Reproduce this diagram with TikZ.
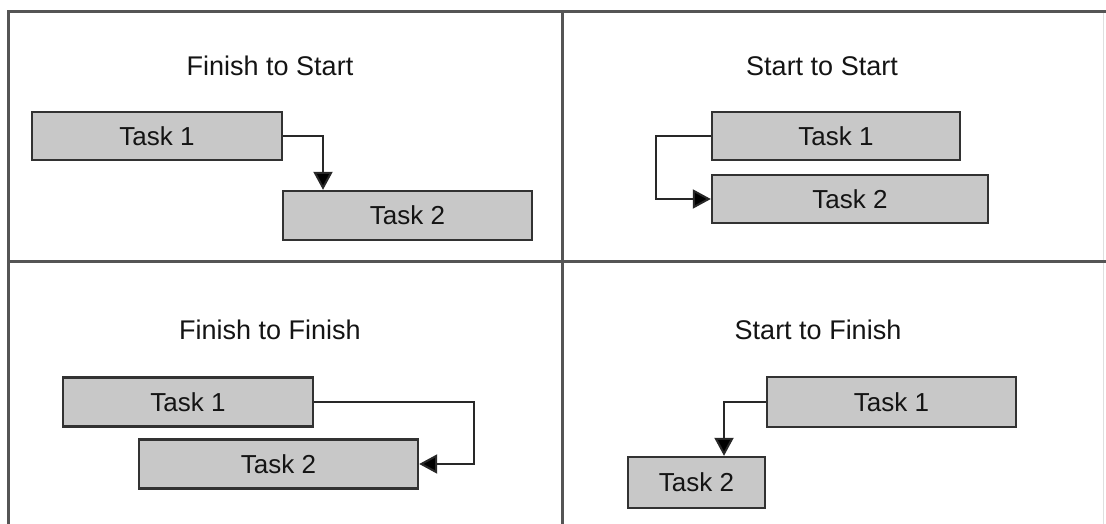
\documentclass[tikz,border=0pt]{standalone}
\usepackage{fontspec}
\setmainfont{Liberation Sans}
\usetikzlibrary{arrows.meta}
\definecolor{framegray}{RGB}{85,85,85}
\definecolor{boxfill}{RGB}{200,200,200}
\definecolor{boxline}{RGB}{50,50,50}
\definecolor{linkgray}{RGB}{40,40,40}
\definecolor{textdark}{RGB}{20,20,20}
\tikzset{
  frameline/.style={draw=framegray, line width=3pt},
  taskbox/.style={draw=boxline, fill=boxfill, line width=2.4pt, rectangle,
    inner sep=0pt, text=textdark, font=\fontsize{26}{29}\selectfont},
  paneltitle/.style={text=textdark, font=\fontsize{27}{30}\selectfont, inner sep=0pt},
  link/.style={draw=linkgray, line width=2pt,
    -{Triangle[length=18pt,width=19pt,fill=black]}},
}
\begin{document}
\begin{tikzpicture}[x=1pt,y=-1pt]
\useasboundingbox (0,0) rectangle (1106,524);
\fill[white] (0,0) rectangle (1106,524);

% outer frame and quadrant dividers
\draw[draw=gray!25, line width=1pt] (1103,11) -- (1103,524);
\draw[frameline] (1106,12) -- (8,12) -- (8,524);
\draw[frameline] (8,261) -- (1106,261);
\draw[frameline] (562,12) -- (562,524);

% Finish to Start
\node[paneltitle] (fsT) at (270,66) {Finish to Start};
\node[taskbox, minimum width=250pt, minimum height=48pt] (fs1) at (157,136) {Task 1};
\node[taskbox, minimum width=249pt, minimum height=49pt] (fs2) at (407.5,215.5) {Task 2};
\coordinate (fsK) at (323,136);
\draw[link] (fs1.east) -- (fsK) -- (fsK |- fs2.north);

% Start to Start
\node[paneltitle] (ssT) at (822,66) {Start to Start};
\node[taskbox, minimum width=248pt, minimum height=48pt] (ss1) at (836,136) {Task 1};
\node[taskbox, minimum width=276pt, minimum height=48pt] (ss2) at (850,199) {Task 2};
\coordinate (ssK) at (656,136);
\draw[link] (ss1.west) -- (ssK) -- (ssK |- ss2.west) -- (ss2.west);

% Finish to Finish
\node[paneltitle] (ffT) at (270,330) {Finish to Finish};
\node[taskbox, minimum width=250pt, minimum height=49pt] (ff1) at (188,402) {Task 1};
\node[taskbox, minimum width=279pt, minimum height=49pt] (ff2) at (278.5,464) {Task 2};
\coordinate (ffK) at (474,402);
\draw[link] (ff1.east) -- (ffK) -- (ffK |- ff2.east) -- (ff2.east);

% Start to Finish
\node[paneltitle] (sfT) at (818,330) {Start to Finish};
\node[taskbox, minimum width=249pt, minimum height=50pt] (sf1) at (891.5,402) {Task 1};
\node[taskbox, minimum width=137pt, minimum height=51pt] (sf2) at (696.5,482.5) {Task 2};
\coordinate (sfK) at (724,402);
\draw[link] (sf1.west) -- (sfK) -- (sfK |- sf2.north);
\end{tikzpicture}
\end{document}
